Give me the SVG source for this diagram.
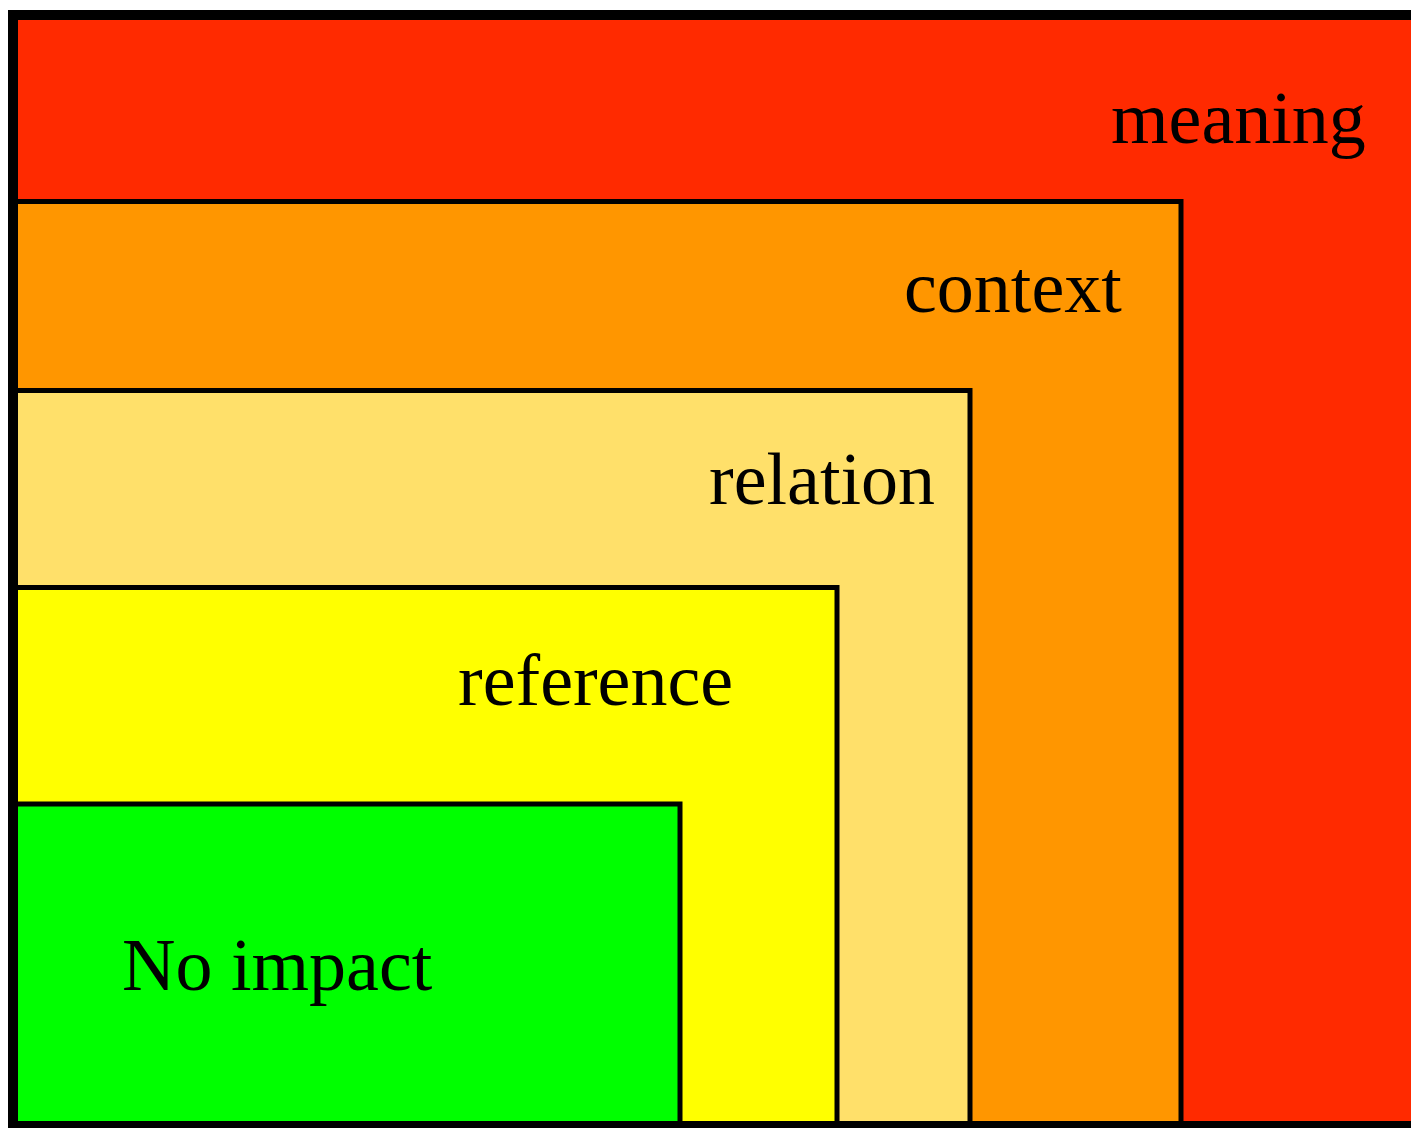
<svg xmlns="http://www.w3.org/2000/svg" width="1411" height="1128" viewBox="0 0 1411 1128">
<style>
.box{stroke:#000;stroke-width:5}
.lbl{font-family:"Liberation Serif","Times New Roman",serif;font-size:74px;fill:#000}
</style>
<rect width="1411" height="1128" fill="#fff"/>
<g id="meaning"><rect class="box" x="13" y="15" width="1420" height="1111" fill="#ff2a00"/><text class="lbl" x="1111" y="142.5">meaning</text></g>
<g id="context"><rect class="box" x="13" y="201.5" width="1168" height="924.5" fill="#ff9600"/><text class="lbl" x="904" y="311.5">context</text></g>
<g id="relation"><rect class="box" x="13" y="390.5" width="957" height="735.5" fill="#ffe06a"/><text class="lbl" x="709" y="504">relation</text></g>
<g id="reference"><rect class="box" x="13" y="587.5" width="824" height="538.5" fill="#ffff00"/><text class="lbl" x="458" y="705">reference</text></g>
<g id="noimpact"><rect class="box" x="13" y="804" width="667" height="322" fill="#00ff00"/><text class="lbl" x="122" y="990">No impact</text></g>
<g id="connectors"/>
<rect x="13" y="15" width="1420" height="1111" fill="none" stroke="#000" stroke-width="10"/>
</svg>
